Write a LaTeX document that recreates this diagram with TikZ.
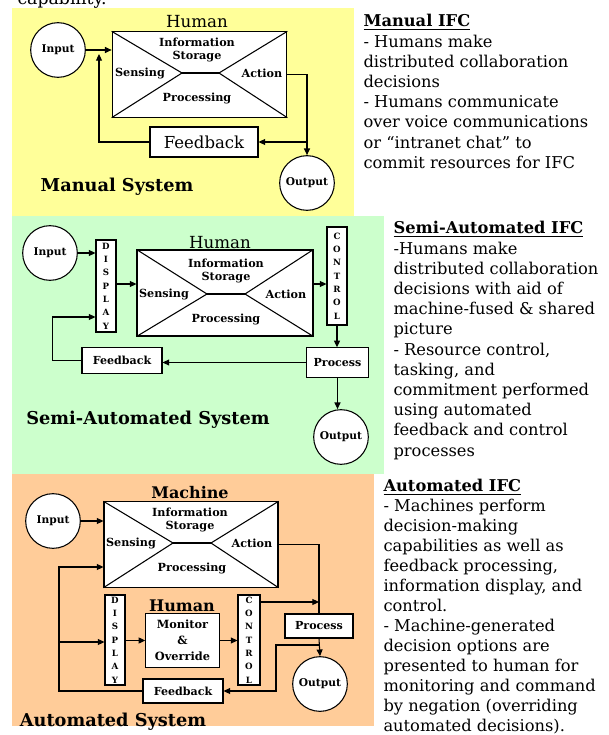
\documentclass[tikz,border=0pt]{standalone}
\usepackage{fontspec}
\setmainfont{DejaVu Serif}
\usetikzlibrary{positioning,arrows.meta}

\definecolor{manualbg}{RGB}{255,255,153}
\definecolor{semibg}{RGB}{204,255,204}
\definecolor{autobg}{RGB}{255,204,153}

\begin{document}
\begin{tikzpicture}[%
		x=0.75pt,y=-0.75pt,
		line width=0.8pt,
		>={Triangle[length=5pt,width=4.5pt]},
		disc/.style={circle,draw,fill=white,inner sep=0pt,%
			minimum size=41pt,font=\bfseries\fontsize{8}{9}\selectfont},%
		xbox/.style={draw,fill=white,inner sep=0pt},%
		block/.style={draw,fill=white,inner sep=0pt,%
			font=\bfseries\fontsize{8.3}{9}\selectfont},%
		strip/.style={draw,fill=white,inner sep=0pt,align=center,%
			minimum width=15pt,font=\bfseries\fontsize{6.5}{10}\selectfont},%
		lbl/.style={inner sep=0pt,font=\bfseries\fontsize{8.4}{10}\selectfont},%
		head/.style={inner sep=0pt,font=\fontsize{12.5}{14}\selectfont},%
		sysname/.style={inner sep=0pt,font=\bfseries\fontsize{13.3}{15}\selectfont},%
		note/.style={anchor=north west,inner sep=0pt,align=left,%
			font=\fontsize{12.2}{15.15}\selectfont}
		]

		\useasboundingbox (0,0) rectangle (609,735);
		% cut-off line of text above
		\node[anchor=base west,inner sep=0pt,font=\fontsize{13}{15}\selectfont]
			(cap) at (17,5) {capability.};

		% panel backgrounds
		\fill[manualbg] (12,8) rectangle (354,216);
		\fill[semibg] (12,216) rectangle (384,474);
		\fill[autobg] (12,474) rectangle (374,726);

		% ---------- manual system ----------
		\node[disc] (in1) at (58,50) {Input};
		\node[head] (hum1) at (197,22) {Human};
		\node[xbox,minimum width=131pt,minimum height=64pt] (box1) at (199.5,74.5) {};
		\coordinate (l1) at (182,73);
		\coordinate (r1) at (219,73);
		\draw (box1.north west) -- (l1) -- (box1.south west);
		\draw (box1.north east) -- (r1) -- (box1.south east);
		\draw (l1) -- (r1);
		\node[lbl,align=center] (info1) at (197,50) {Information\\Storage};
		\node[lbl] (sens1) at (140,73) {Sensing};
		\node[lbl] (act1) at (262,73) {Action};
		\node[lbl] (proc1) at (197,98) {Processing};
		\node[draw,fill=white,inner sep=0pt,minimum width=81pt,minimum height=22.5pt,
			font=\fontsize{12.4}{14}\selectfont] (fb1) at (204,142) {Feedback};
		\node[disc] (out1) at (307,183) {Output};
		\node[sysname] (sys1) at (117,187) {Manual System};
		\coordinate (fbin1) at (99,54);

		\draw[->] (in1.east) -- (box1.west |- in1.east);
		\draw[->] (box1.east) -| (out1.north);
		\draw[->] (out1.north |- fb1.east) -- (fb1.east);
		\draw[->] (fb1.west) -| (fbin1);

		\node[note] (txt1) at (363,14) {\underline{\textbf{Manual IFC}}\\
			- Humans make\\
			distributed collaboration\\
			decisions\\
			- Humans communicate\\
			over voice communications\\
			or “intranet chat” to\\
			commit resources for IFC};

		% ---------- semi-automated system ----------
		\node[disc] (in2) at (50,253) {Input};
		\node[strip,minimum height=69pt] (disp2) at (106,286) {D\\I\\S\\P\\L\\A\\Y};
		\node[head] (hum2) at (220,243) {Human};
		\node[xbox,minimum width=132pt,minimum height=64.5pt] (box2) at (225,293) {};
		\coordinate (l2) at (207,294);
		\coordinate (r2) at (245,294);
		\draw (box2.north west) -- (l2) -- (box2.south west);
		\draw (box2.north east) -- (r2) -- (box2.south east);
		\draw (l2) -- (r2);
		\node[lbl,align=center] (info2) at (226,271) {Information\\Storage};
		\node[lbl] (sens2) at (164,294) {Sensing};
		\node[lbl] (act2) at (286,294) {Action};
		\node[lbl] (proc2l) at (226,319) {Processing};
		\node[strip,minimum height=73.5pt] (ctrl2) at (337,276) {C\\O\\N\\T\\R\\O\\L};
		\node[block,minimum width=46pt,minimum height=22pt] (proc2) at (337.5,362.5) {Process};
		\node[block,minimum width=60pt,minimum height=19pt] (fb2) at (122,360.5) {Feedback};
		\node[disc] (out2) at (341,437) {Output};
		\node[sysname] (sys2) at (148,420) {Semi-Automated System};

		\draw[->] (in2.east) -- (disp2.west |- in2.east);
		\draw[->] (disp2.east |- 0,284) -- (box2.west |- 0,284);
		\draw[->] (box2.east |- 0,284) -- (ctrl2.west |- 0,284);
		\draw[->] (ctrl2.south) -- (ctrl2.south |- proc2.north);
		\draw[->] (proc2.west) -- (proc2.west -| fb2.east);
		\draw[->] (fb2.west) -- ++(-29,0) |- (disp2.west |- 0,317);
		\draw[->] (proc2.south) -- (proc2.south |- out2.north);

		\node[note] (txt2) at (393,221) {\underline{\textbf{Semi-Automated IFC}}\\
			-Humans make\\
			distributed collaboration\\
			decisions with aid of\\
			machine-fused \& shared\\
			picture\\
			- Resource control,\\
			tasking, and\\
			commitment performed\\
			using automated\\
			feedback and control\\
			processes};

		% ---------- automated system ----------
		\node[disc] (in3) at (53,521) {Input};
		\node[head,font=\bfseries\fontsize{12}{14}\selectfont] (mach3) at (190,493) {Machine};
		\node[xbox,minimum width=130.5pt,minimum height=64pt] (box3) at (191,544.5) {};
		\coordinate (l3) at (173,543);
		\coordinate (r3) at (211,543);
		\draw (box3.north west) -- (l3) -- (box3.south west);
		\draw (box3.north east) -- (r3) -- (box3.south east);
		\draw (l3) -- (r3);
		\node[lbl,align=center] (info3) at (190,520) {Information\\Storage};
		\node[lbl] (sens3) at (131,543) {Sensing};
		\node[lbl] (act3) at (252,543) {Action};
		\node[lbl] (proc3l) at (192,568) {Processing};
		\node[strip,minimum height=67.5pt] (disp3) at (115,640) {D\\I\\S\\P\\L\\A\\Y};
		\node[head,font=\bfseries\fontsize{12}{14}\selectfont] (hum3) at (182,606) {Human};
		\node[block,align=center,minimum width=55pt,minimum height=40pt,
			font=\bfseries\fontsize{8.5}{12}\selectfont] (mon3) at (182.5,640.5) {Monitor\\\&\\Override};
		\node[strip,minimum width=16.5pt,minimum height=67.5pt] (ctrl3) at (249,640) {C\\O\\N\\T\\R\\O\\L};
		\node[block,minimum width=51pt,minimum height=18pt] (proc3) at (319,626) {Process};
		\node[disc] (out3) at (320,684) {Output};
		\node[block,minimum width=60pt,minimum height=18pt] (fb3) at (183,691) {Feedback};
		\node[sysname] (sys3) at (113,722) {Automated System};
		\coordinate (tap3) at (59,642);

		\draw (box3.east) -| (proc3.north);
		\draw[->] (ctrl3.east |- 0,602) -- (proc3.north |- 0,602);
		\draw[->] (in3.east) -- (box3.west |- in3.east);
		\draw[->] (disp3.east |- mon3.west) -- (mon3.west);
		\draw[->] (mon3.east) -- (ctrl3.west |- mon3.east);
		\draw[->] (proc3.south) -- (out3.north);
		\draw[->] (proc3.south |- 0,645) -- ++(-43,0) |- (fb3.east);
		\draw[->] (fb3.west) -| (tap3) |- (box3.west |- 0,567);
		\draw[->] (tap3) -- (disp3.west |- tap3);

		\node[note,font=\fontsize{12.2}{15}\selectfont] (txt3) at (383,479) {\underline{\textbf{Automated IFC}}\\
			- Machines perform\\
			decision-making\\
			capabilities as well as\\
			feedback processing,\\
			information display, and\\
			control.\\
			- Machine-generated\\
			decision options are\\
			presented to human for\\
			monitoring and command\\
			by negation (overriding\\
			automated decisions).};
	\end{tikzpicture}
\end{document}
